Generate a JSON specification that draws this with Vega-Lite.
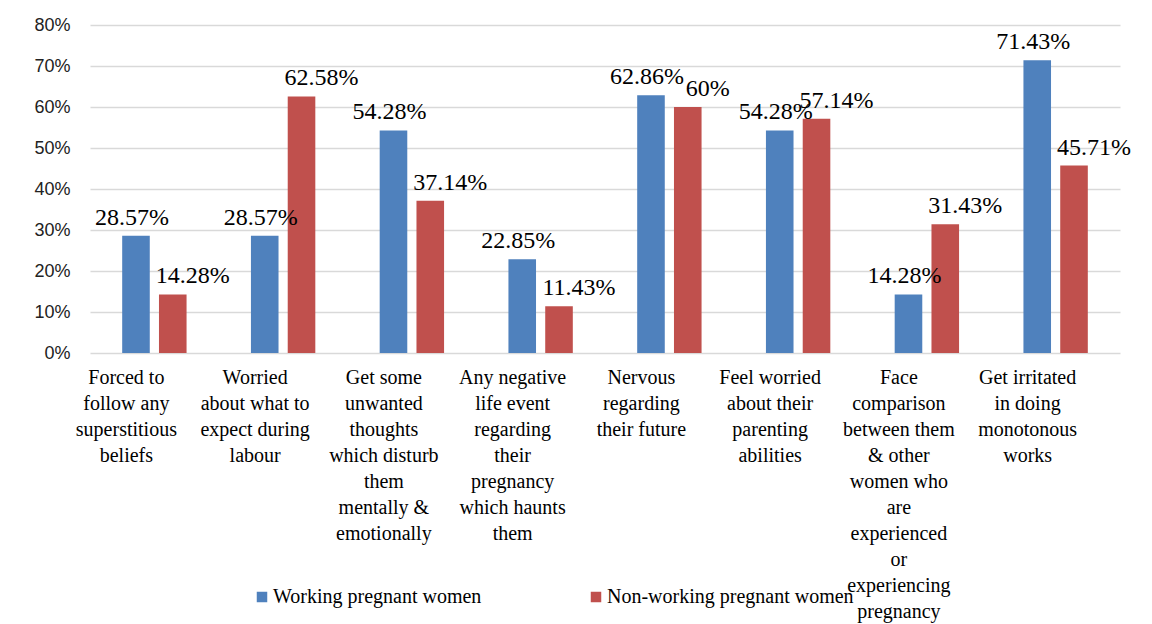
{
  "$schema": "https://vega.github.io/schema/vega-lite/v6.json",
  "width": 1030,
  "height": 328,
  "autosize": "none",
  "padding": {"left": 90, "top": 25, "right": 32, "bottom": 271},
  "background": "white",
  "data": {
    "values": [
      {"category": "Forced to|follow any|superstitious|beliefs", "group": "Working pregnant women", "value": 0.2857},
      {"category": "Forced to|follow any|superstitious|beliefs", "group": "Non-working pregnant women", "value": 0.1428},
      {"category": "Worried|about what to|expect during|labour", "group": "Working pregnant women", "value": 0.2857},
      {"category": "Worried|about what to|expect during|labour", "group": "Non-working pregnant women", "value": 0.6258},
      {"category": "Get some|unwanted|thoughts|which disturb|them|mentally &|emotionally", "group": "Working pregnant women", "value": 0.5428},
      {"category": "Get some|unwanted|thoughts|which disturb|them|mentally &|emotionally", "group": "Non-working pregnant women", "value": 0.3714},
      {"category": "Any negative|life event|regarding|their|pregnancy|which haunts|them", "group": "Working pregnant women", "value": 0.2285},
      {"category": "Any negative|life event|regarding|their|pregnancy|which haunts|them", "group": "Non-working pregnant women", "value": 0.1143},
      {"category": "Nervous|regarding|their future", "group": "Working pregnant women", "value": 0.6286},
      {"category": "Nervous|regarding|their future", "group": "Non-working pregnant women", "value": 0.60},
      {"category": "Feel worried|about their|parenting|abilities", "group": "Working pregnant women", "value": 0.5428},
      {"category": "Feel worried|about their|parenting|abilities", "group": "Non-working pregnant women", "value": 0.5714},
      {"category": "Face|comparison|between them|& other|women who|are|experienced|or|experiencing|pregnancy", "group": "Working pregnant women", "value": 0.1428},
      {"category": "Face|comparison|between them|& other|women who|are|experienced|or|experiencing|pregnancy", "group": "Non-working pregnant women", "value": 0.3143},
      {"category": "Get irritated|in doing|monotonous|works", "group": "Working pregnant women", "value": 0.7143},
      {"category": "Get irritated|in doing|monotonous|works", "group": "Non-working pregnant women", "value": 0.4571}
    ]
  },
  "encoding": {
    "x": {
      "field": "category",
      "type": "nominal",
      "sort": null,
      "scale": {"paddingInner": 0.5, "paddingOuter": 0.25},
      "axis": {
        "title": null,
        "labelAngle": 0,
        "labelExpr": "split(datum.label, '|')",
        "labelFont": "Liberation Serif",
        "labelFontSize": 20,
        "labelLineHeight": 26,
        "labelColor": "#000000",
        "labelPadding": 14,
        "labelOffset": -28,
        "labelLimit": 0,
        "ticks": false,
        "domain": false,
        "grid": false
      }
    },
    "xOffset": {
      "field": "group",
      "type": "nominal",
      "sort": ["Working pregnant women", "Non-working pregnant women"],
      "scale": {"paddingInner": 0.25, "paddingOuter": 0}
    },
    "y": {
      "field": "value",
      "type": "quantitative",
      "scale": {"domain": [0, 0.8], "nice": false},
      "axis": {
        "title": null,
        "values": [0, 0.1, 0.2, 0.3, 0.4, 0.5, 0.6, 0.7, 0.8],
        "format": ".0%",
        "labelFont": "Liberation Sans",
        "labelFontSize": 18,
        "labelColor": "#222222",
        "labelPadding": 20,
        "ticks": false,
        "domain": false,
        "grid": true,
        "gridColor": "#d9d9d9",
        "gridWidth": 1.5
      }
    }
  },
  "layer": [
    {
      "mark": {"type": "bar"},
      "encoding": {
        "color": {
          "field": "group",
          "type": "nominal",
          "scale": {
            "domain": ["Working pregnant women", "Non-working pregnant women"],
            "range": ["#4F81BD", "#C0504D"]
          },
          "legend": {
            "title": null,
            "orient": "none",
            "legendX": 162,
            "legendY": 562,
            "direction": "horizontal",
            "symbolType": "square",
            "symbolSize": 110,
            "symbolStrokeWidth": 0,
            "labelFont": "Liberation Serif",
            "labelFontSize": 20,
            "labelColor": "#000000",
            "labelLimit": 0,
            "labelOffset": 1,
            "columnPadding": 104
          }
        }
      }
    },
    {
      "transform": [{"filter": "datum.group === 'Working pregnant women'"}],
      "mark": {"type": "text", "style": "serifLabel", "dy": -11, "dx": -4},
      "encoding": {
        "text": {"field": "value", "type": "quantitative", "format": ".2~%"}
      }
    },
    {
      "transform": [{"filter": "datum.group === 'Non-working pregnant women'"}],
      "mark": {"type": "text", "style": "serifLabel", "dy": -11, "dx": 20},
      "encoding": {
        "text": {"field": "value", "type": "quantitative", "format": ".2~%"}
      }
    }
  ],
  "config": {
    "view": {"stroke": null},
    "style": {
      "serifLabel": {"font": "Liberation Serif", "fontSize": 24, "fill": "#000000", "baseline": "alphabetic"}
    }
  }
}
